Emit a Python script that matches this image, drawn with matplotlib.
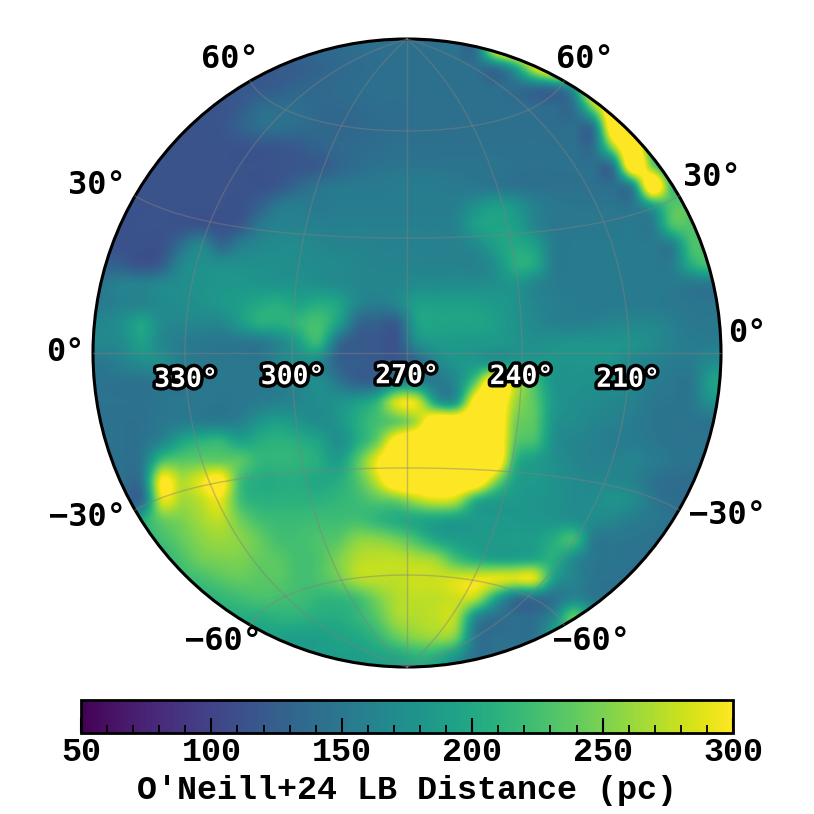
#!/usr/bin/env python3
"""
Local Bubble distance map, Lambert hemisphere centred on l=270, b=0.
"""
import matplotlib
matplotlib.use("Agg")
import matplotlib.patheffects as pe
import matplotlib.pyplot as plt
import numpy as np
from matplotlib.patches import Circle

# distance (pc), top to bottom, on a 32x32 grid over the disk
DIST_ROWS = [
    [125,125,125,125,125,125,125,125,125,125,130,135,138,140,142,142,142,142,145,145,300,340,340,340,340,340,340,340,340,340,340,340],
    [120,120,120,120,120,120,120,120,120,122,125,130,135,138,140,142,142,142,142,142,142,190,280,340,340,340,340,340,340,340,340,340],
    [118,118,118,118,118,118,118,118,120,125,132,135,138,140,142,142,142,142,142,142,142,140,140,145,190,340,340,340,340,340,340,340],
    [116,116,116,116,116,116,116,122,138,140,140,135,135,137,140,140,142,142,142,142,142,142,140,140,145,250,340,340,340,340,340,340],
    [114,114,114,114,114,114,116,128,140,142,138,135,132,135,138,140,142,142,142,142,142,142,142,140,142,150,340,340,260,260,260,260],
    [114,114,114,114,114,114,114,114,116,118,122,130,135,138,140,143,143,143,143,143,143,143,143,143,143,143,260,340,220,200,200,200],
    [114,114,114,114,114,114,114,114,114,116,118,122,132,140,145,147,147,147,147,147,147,145,143,143,143,143,150,340,250,190,200,200],
    [114,114,114,114,114,114,114,114,114,120,135,145,150,152,152,155,155,155,152,150,148,145,143,143,143,143,143,170,340,220,220,220],
    [113,113,113,114,114,114,114,114,128,150,155,152,155,155,155,155,155,155,158,175,188,180,160,150,148,148,148,150,190,230,235,230],
    [113,113,114,114,114,116,114,120,150,160,160,158,158,158,158,158,158,158,162,190,195,190,165,150,150,150,150,152,155,225,230,225],
    [113,113,113,114,140,165,135,155,165,170,170,165,162,162,160,160,160,160,160,170,190,200,190,155,152,152,152,152,153,158,225,225],
    [130,125,115,125,165,175,175,175,175,175,172,170,168,165,162,162,162,160,160,160,175,205,200,155,153,153,153,153,153,155,205,225],
    [150,160,160,168,172,178,180,182,180,178,178,175,170,165,165,165,170,170,172,172,175,180,165,155,153,153,153,153,153,152,150,150],
    [155,160,162,168,172,176,182,190,200,205,195,205,195,165,155,165,190,190,192,190,185,178,165,158,155,153,153,153,153,150,148,148],
    [165,175,195,170,165,165,165,185,205,205,215,225,190,135,128,125,190,195,195,195,190,178,168,160,158,160,165,165,165,158,150,150],
    [165,170,190,165,155,150,148,148,150,165,190,215,140,122,120,118,170,185,185,185,185,180,175,178,180,180,180,178,170,160,155,155],
    [150,160,170,172,155,150,150,150,150,165,172,165,130,125,122,122,135,165,180,185,185,185,185,180,180,180,178,165,160,155,155,170],
    [145,145,145,148,148,150,150,150,150,155,165,172,150,130,135,165,165,155,170,240,340,270,225,180,178,175,172,165,155,150,150,190],
    [145,145,145,148,150,150,148,150,155,160,165,172,178,190,215,285,285,195,190,320,340,265,235,185,175,170,165,160,150,148,150,175],
    [143,143,143,150,155,155,155,160,180,190,180,172,180,205,225,240,270,340,340,340,340,250,235,180,172,165,160,155,148,146,146,146],
    [143,143,145,165,195,210,215,195,205,210,205,195,175,205,245,320,340,340,340,340,340,240,225,175,165,160,155,155,150,146,146,146],
    [143,143,150,225,235,240,240,235,215,215,212,205,190,235,295,340,340,340,340,340,340,215,190,175,165,160,160,162,155,148,145,145],
    [143,143,150,300,270,290,310,225,205,205,205,200,205,232,280,340,340,340,340,340,260,195,185,178,170,165,165,160,145,140,140,140],
    [140,140,140,285,265,275,290,225,210,210,210,210,215,222,235,245,270,285,275,210,190,185,180,178,172,172,178,170,150,140,140,140],
    [140,140,200,240,250,265,275,245,225,220,220,222,222,225,215,205,200,195,190,187,185,183,182,180,175,170,165,155,150,145,145,145],
    [210,210,210,225,240,255,262,255,240,225,225,230,235,255,255,245,225,200,190,187,187,190,190,205,220,155,150,148,145,145,145,145],
    [215,215,215,215,228,245,250,250,240,235,225,230,250,270,275,275,270,260,225,205,195,195,200,205,170,150,148,145,145,145,145,145],
    [220,220,220,220,220,225,235,240,235,235,225,230,245,270,275,275,280,280,285,290,290,285,285,190,165,148,145,145,145,145,145,145],
    [210,210,210,210,210,210,215,222,228,225,222,215,215,225,250,270,275,275,280,270,200,145,142,145,165,150,150,150,150,150,150,150],
    [205,205,205,205,205,205,205,205,205,210,210,205,205,215,235,265,270,275,270,170,143,142,142,170,240,190,190,190,190,190,190,190],
    [195,195,195,195,195,195,195,195,195,192,190,190,195,200,215,240,255,260,245,150,143,143,145,190,190,190,190,190,190,190,190,190],
    [190,190,190,190,190,190,190,190,190,190,190,190,190,190,195,200,210,205,180,145,145,145,145,145,145,145,145,145,145,145,145,145],
]

LON_LINES = [210, 240, 270, 300, 330]
LAT_LINES = [-60, -30, 0, 30, 60]
LON_LABELS = ["330°", "300°", "270°", "240°", "210°"]
LON_LABEL_VALUES = [330, 300, 270, 240, 210]
LAT_LABELS = ["60°", "60°", "30°", "30°", "0°", "0°", "−30°", "−30°", "−60°", "−60°"]
LAT_LABEL_PX = [(230, 60), (585, 60), (97, 185), (712, 177), (65, 353),
                (747, 333), (87, 517), (727, 515), (223, 641), (592, 641)]
CBAR_TICKS = [50, 100, 150, 200, 250, 300]
CBAR_MINOR = [60, 70, 80, 90, 110, 120, 130, 140, 160, 170, 180, 190,
              210, 220, 230, 240, 260, 270, 280, 290]

MONO = "DejaVu Sans Mono"
BAR_FONT = "Liberation Mono"
SIZE = 814


def project(lon, lat):
    # Lambert azimuthal equal area, scaled so the hemisphere fills the unit disk
    dlon = np.radians(np.asarray(lon, dtype=float) - 270.0)
    lat = np.radians(np.asarray(lat, dtype=float))
    k = 1.0 / np.sqrt(1.0 + np.cos(lat) * np.cos(dlon))
    return -k * np.cos(lat) * np.sin(dlon), k * np.sin(lat)


def main() -> None:
    fig = plt.figure(figsize=(SIZE / 100, SIZE / 100), dpi=100)
    ax = fig.add_axes([93 / SIZE, 1 - 667 / SIZE, 628 / SIZE, 628 / SIZE])
    ax.set_xlim(-1, 1)
    ax.set_ylim(-1, 1)
    ax.set_aspect("equal")
    ax.axis("off")

    im = ax.imshow(np.array(DIST_ROWS), extent=(-1, 1, -1, 1), origin="upper",
                   cmap="viridis", vmin=50, vmax=300, interpolation="spline16")
    disk = Circle((0, 0), 1, transform=ax.transData, facecolor="none")
    ax.add_patch(disk)
    im.set_clip_path(disk)

    for lon in LON_LINES:
        lat = np.linspace(-90, 90, 181)
        x, y = project(np.full_like(lat, lon), lat)
        ax.plot(x, y, color="gray", lw=1.0, alpha=0.45, clip_on=False)
    for lat in LAT_LINES:
        lon = np.linspace(180, 360, 181)
        x, y = project(lon, np.full_like(lon, lat))
        ax.plot(x, y, color="gray", lw=1.0, alpha=0.45, clip_on=False)

    ax.add_patch(Circle((0, 0), 1, facecolor="none", edgecolor="black", lw=2.2, clip_on=False))

    for label, lon in zip(LON_LABELS, LON_LABEL_VALUES):
        x, y = project(lon, -6.0)
        ax.text(x, y, label, color="white", family=MONO, weight="bold", fontsize=19,
                ha="center", va="center",
                path_effects=[pe.withStroke(linewidth=5, foreground="black")])

    for label, (px, py) in zip(LAT_LABELS, LAT_LABEL_PX):
        fig.text(px / SIZE, 1 - py / SIZE, label, family=MONO, weight="bold",
                 fontsize=23, ha="center", va="center", color="black")

    cax = fig.add_axes([81 / SIZE, 1 - 733 / SIZE, 652 / SIZE, 33 / SIZE])
    cbar = fig.colorbar(im, cax=cax, orientation="horizontal")
    cbar.set_ticks(CBAR_TICKS)
    cbar.set_ticks(CBAR_MINOR, minor=True)
    cbar.outline.set_linewidth(2.0)
    cax.tick_params(axis="x", which="major", direction="in", length=11, width=1.5, pad=3)
    cax.tick_params(axis="x", which="minor", direction="in", length=6, width=1.3)
    for tick in cax.get_xticklabels():
        tick.set_family(BAR_FONT)
        tick.set_weight("bold")
        tick.set_fontsize(24)
    cbar.set_label("O'Neill+24 LB Distance (pc)", family=BAR_FONT, weight="bold", fontsize=24, labelpad=5)

    fig.savefig("out.png", dpi=100)
    plt.close(fig)


if __name__ == "__main__":
    main()
